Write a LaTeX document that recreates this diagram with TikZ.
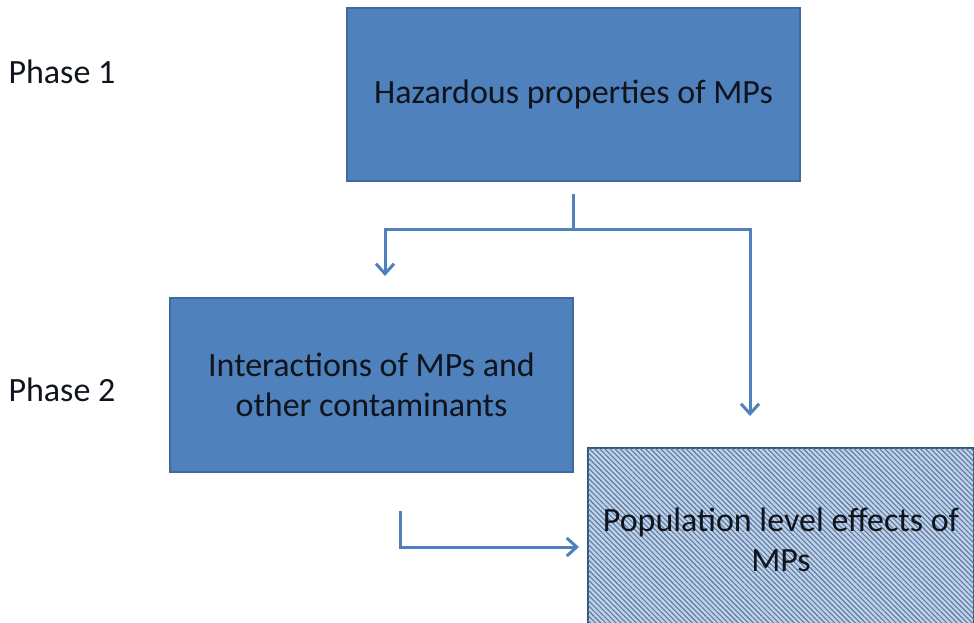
\documentclass[tikz,border=0pt]{standalone}
\usepackage{fontspec}
\setmainfont{Carlito}
\usetikzlibrary{arrows.meta,patterns.meta}
\definecolor{mpblue}{HTML}{4F81BD}
\definecolor{mpedge}{HTML}{3F6A9C}
\definecolor{mplight}{HTML}{C0D2E7}
\definecolor{mphatch}{HTML}{5A7AA3}
\definecolor{mptext}{HTML}{10141C}
\tikzset{
  phasebox/.style={draw=mpedge, line width=2pt, fill=mpblue, inner sep=0pt,
    align=center, text=mptext, font=\fontsize{34pt}{40pt}\selectfont},
  link/.style={draw=mpblue, line width=3pt},
  tip/.style={-{Straight Barb[length=10pt,width=18pt,line width=3pt]}},
  phaselabel/.style={anchor=west, text=mptext, font=\fontsize{34pt}{40pt}\selectfont}
}
\begin{document}
\begin{tikzpicture}[x=1pt, y=-1pt]
\useasboundingbox (0, 0) rectangle (974, 623);
\fill [white] (0, 0) rectangle (974, 623);

\node (phaseone) at (5, 72) [phaselabel] {Phase 1};
\node (phasetwo) at (5, 390) [phaselabel] {Phase 2};

\node (hazard) at (573.5, 94.5) [phasebox, minimum width=453pt, minimum height=173pt] {Hazardous properties of MPs};
\node (inter) at (371.5, 385) [phasebox, minimum width=403pt, minimum height=174pt] {Interactions of MPs and\\other contaminants};
\begin{scope}
\clip (0, 0) rectangle (974, 623);
\node (pop) at (781, 540) [phasebox, draw=mpedge!80!black, minimum width=386pt, minimum height=184pt, fill=mplight,
  postaction={pattern={Lines[angle=-45, distance=3.6pt, line width=1.1pt]}, pattern color=mphatch}] {};
\node at (pop) [text=mptext, align=center, font=\fontsize{34pt}{40pt}\selectfont] {Population level effects of\\MPs};
\end{scope}

% connectors
\coordinate (fork) at (573.5, 229);
\coordinate (tointer) at (385, 276);
\coordinate (topop) at (750, 416);
\coordinate (frominter) at (400, 511);
\coordinate (topopside) at (579, 547);
\draw [link, shorten <=12pt] (hazard.south) -- (fork);
\draw [link, tip] (fork) -| (tointer);
\draw [link, tip] (fork) -| (topop);
\draw [link, tip] (frominter) |- (topopside);

\end{tikzpicture}
\end{document}
